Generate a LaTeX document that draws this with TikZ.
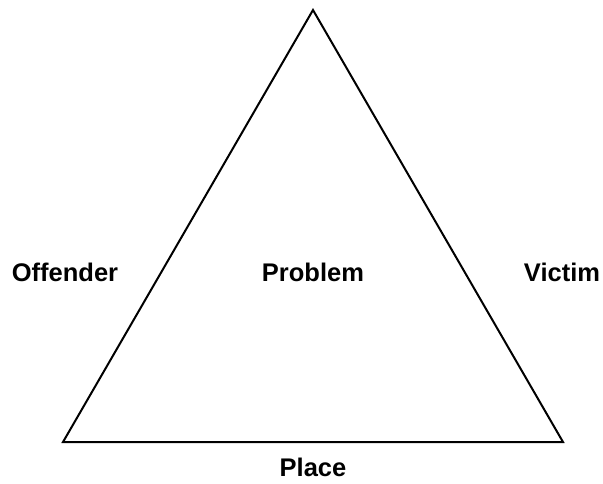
\documentclass[tikz,border=0pt]{standalone}
\usepackage{fontspec}
\setmainfont{Liberation Sans}
\begin{document}
\begin{tikzpicture}[x=1pt,y=-1pt,
  lbl/.style={font=\fontsize{25.5}{30}\selectfont\bfseries, inner sep=0pt},
  edge/.style={line width=2pt, line join=miter}]
\useasboundingbox (0,0) rectangle (603,483);
\coordinate (top) at (313,10);
\coordinate (bl) at (63,442);
\coordinate (br) at (563,442);
\draw[edge] (top) -- (bl) -- (br) -- cycle;
\node[lbl] (offender) at (65,272) {Offender};
\node[lbl] (problem) at (313,272) {Problem};
\node[lbl] (victim) at (562,272) {Victim};
\node[lbl] (place) at (313,467) {Place};
\end{tikzpicture}
\end{document}
